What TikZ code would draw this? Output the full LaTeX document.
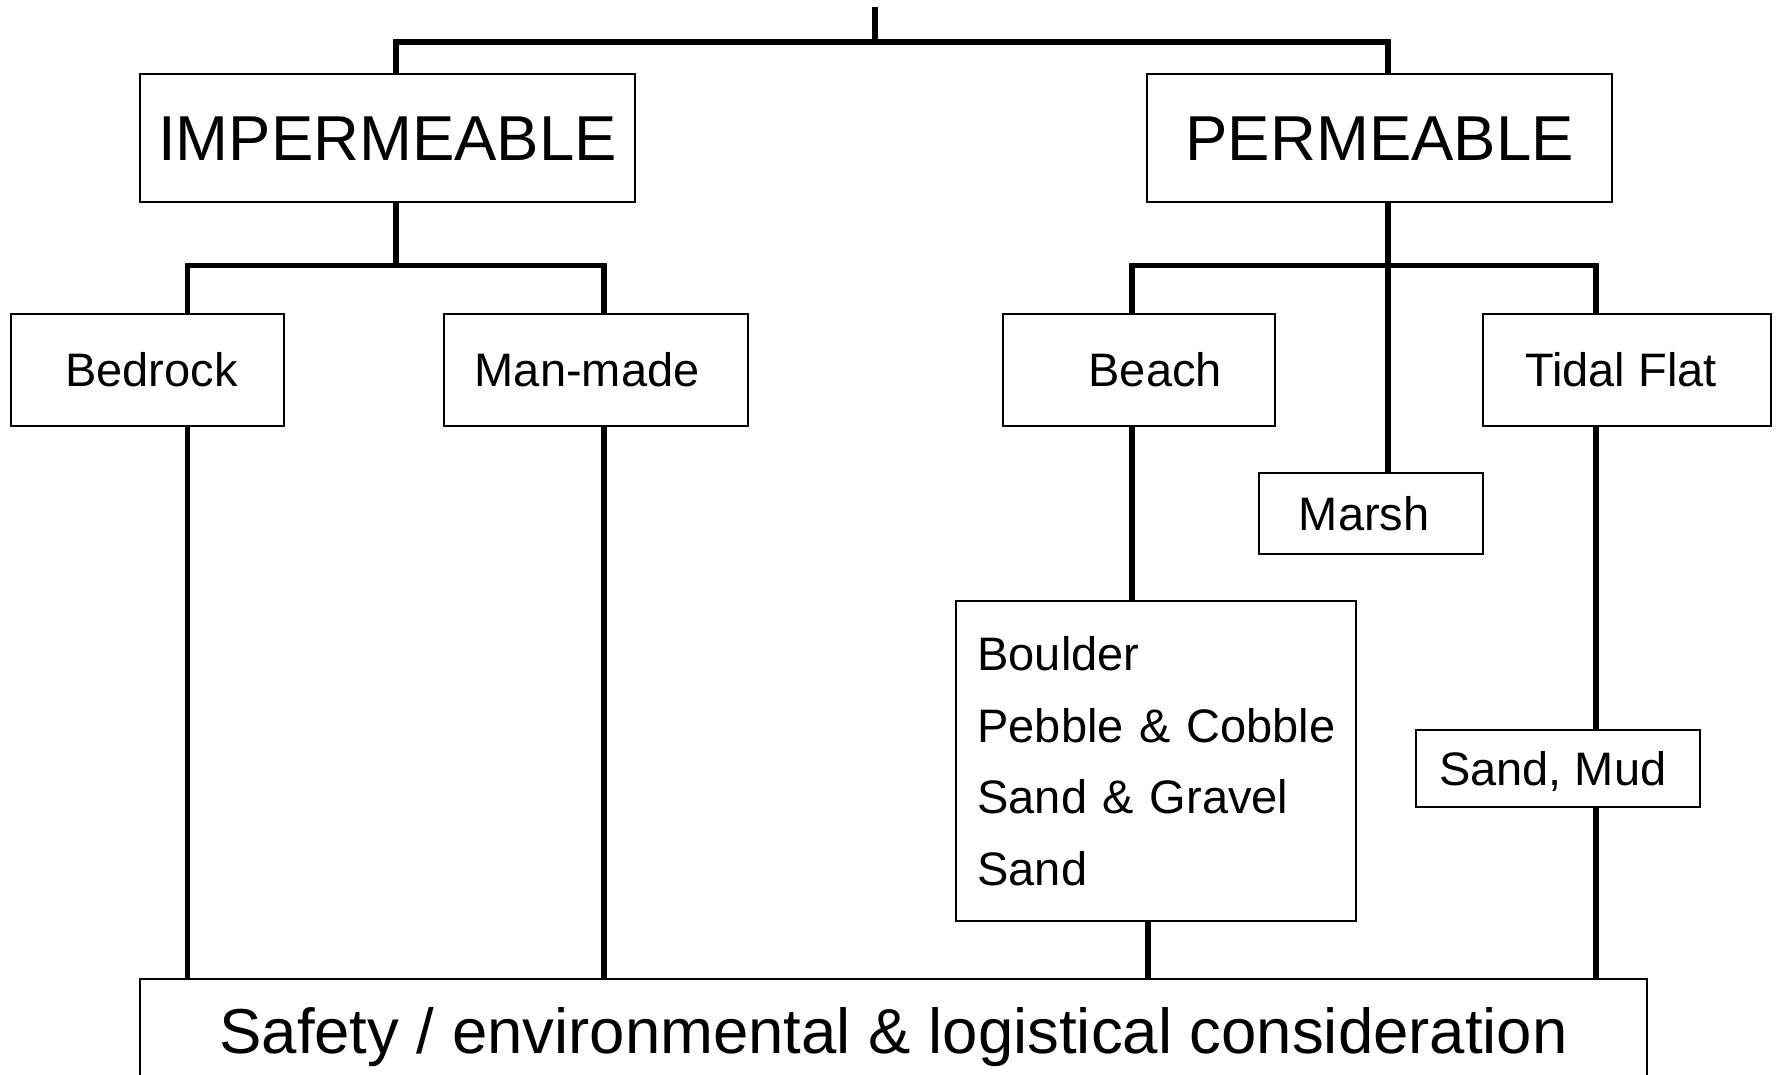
\documentclass[tikz,border=0pt]{standalone}
\usepackage{fontspec}
\setmainfont{Liberation Sans}
\begin{document}
\begin{tikzpicture}[x=1pt,y=-1pt,
  box/.style={draw=black, line width=2pt, inner sep=0pt, text height=34pt, text depth=0pt, font=\fontsize{47}{56}\selectfont},
  bigbox/.style={box, text height=45.5pt, font=\fontsize{63.5}{76}\selectfont},
  listbox/.style={draw=black, line width=2pt, inner xsep=22pt, inner ysep=0pt, text width=356.5pt, align=left, text height=34pt, text depth=214.5pt, font=\fontsize{47}{71.5}\selectfont},
  conn/.style={draw=black, line width=5.5pt, line join=miter}]
\useasboundingbox (0,0) rectangle (1779,1075);

% nodes
\node[bigbox, minimum width=495.8pt, minimum height=128.3pt] (imp) at (387.5,137.85) {IMPERMEABLE};
\node[bigbox, minimum width=465.3pt, minimum height=128.3pt] (perm) at (1379.65,137.85) {PERMEABLE};
\node[box, minimum width=272.4pt, minimum height=111.2pt] (bed) at (147.5,369.9) {\hspace*{8pt}Bedrock};
\node[box, minimum width=304.1pt, minimum height=111.2pt] (man) at (595.65,369.9) {Man-made\hspace*{17pt}};
\node[box, minimum width=272.3pt, minimum height=111.2pt] (beach) at (1139.15,369.9) {\hspace*{32pt}Beach};
\node[box, minimum width=288.1pt, minimum height=111.2pt] (tidal) at (1627.05,369.9) {Tidal Flat\hspace*{12pt}};
\node[box, minimum width=223.6pt, minimum height=80.7pt] (marsh) at (1371.2,513.4) {Marsh\hspace*{14pt}};
\node[box, minimum width=283.6pt, minimum height=77.2pt] (sandmud) at (1557.8,768.1) {Sand, Mud\hspace*{10pt}};
\node[listbox, minimum height=319.7pt] (list) at (1155.75,761.15) {\mbox{Boulder}\\\mbox{Pebble \& Cobble}\\\mbox{Sand \& Gravel}\\\mbox{Sand}};
\node[bigbox, minimum width=1507.8pt, minimum height=102.6pt] (safe) at (893.5,1030.5) {Safety / environmental \& logistical consideration};

% junction coordinates
\coordinate (rootTop) at (875,7);
\coordinate (rootJ) at (875,42);
\coordinate (ximp) at (396,0);
\coordinate (xperm) at (1388,0);
\coordinate (xbed) at (187.7,0);
\coordinate (xman) at (604,0);
\coordinate (xbeach) at (1131.8,0);
\coordinate (xtidal) at (1596,0);
\coordinate (xlist) at (1148,0);
\coordinate (jimp) at (396,265.5);
\coordinate (jperm) at (1388,265.5);

% connectors
\draw[conn] (rootTop) -- (rootJ);
\draw[conn] (imp.north -| ximp) |- (rootJ) -| (perm.north -| xperm);
\draw[conn] (imp.south -| ximp) -- (jimp);
\draw[conn] (bed.north -| xbed) |- (jimp) -| (man.north -| xman);
\draw[conn] (bed.south -| xbed) -- (safe.north -| xbed);
\draw[conn] (man.south -| xman) -- (safe.north -| xman);
\draw[conn] (perm.south -| xperm) -- (marsh.north -| xperm);
\draw[conn] (beach.north -| xbeach) |- (jperm) -| (tidal.north -| xtidal);
\draw[conn] (beach.south -| xbeach) -- (list.north -| xbeach);
\draw[conn] (list.south -| xlist) -- (safe.north -| xlist);
\draw[conn] (tidal.south -| xtidal) -- (sandmud.north -| xtidal);
\draw[conn] (sandmud.south -| xtidal) -- (safe.north -| xtidal);
\end{tikzpicture}
\end{document}
